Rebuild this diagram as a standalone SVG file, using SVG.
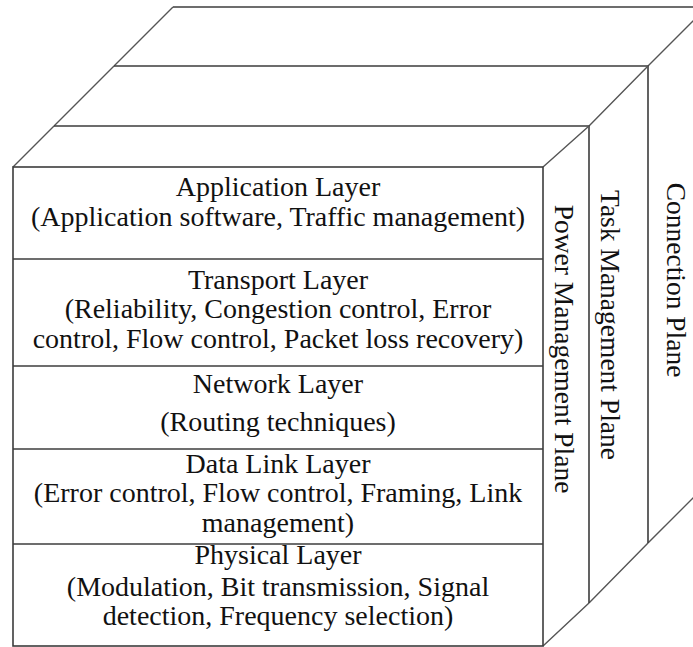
<svg xmlns="http://www.w3.org/2000/svg" width="693" height="647" viewBox="0 0 693 647">
<style>
.ln{fill:none;stroke:#3c3c3c;stroke-width:1.6;stroke-linejoin:miter}
.dg{fill:none;stroke:#555;stroke-width:1.4}
.t{font-family:"Liberation Serif","Times New Roman",serif;font-size:28px;fill:#111;text-anchor:middle}
.v{font-family:"Liberation Serif","Times New Roman",serif;font-size:27.5px;fill:#111;text-anchor:middle}
</style>
<rect width="693" height="647" fill="#fff"/>
<g id="connection-plane">
<path class="ln" d="M173,7 H720"/>
<path class="dg" d="M114,66 L173,7 M648,66 L707,7 M648,543 L710,481"/>
<text class="v" transform="translate(667,280) rotate(90)">Connection Plane</text>
</g>
<g id="task-management-plane">
<path class="ln" d="M114,66 H648 V543"/>
<path class="dg" d="M54,126 L114,66 M589,126 L648,66 M589,603 L648,543"/>
<text class="v" transform="translate(601,325) rotate(90)">Task Management Plane</text>
</g>
<g id="power-management-plane">
<path class="ln" d="M54,126 H589 V603"/>
<path class="dg" d="M13,167 L54,126 M543,167 L589,126 M543,646 L589,603"/>
<text class="v" transform="translate(555,349) rotate(90)">Power Management Plane</text>
</g>
<g id="front-face">
<rect class="ln" x="13" y="167" width="530" height="479"/>
</g>
<g id="application-layer">
<text class="t" x="278" y="196">Application Layer</text>
<text class="t" x="278" y="226">(Application software, Traffic management)</text>
</g>
<g id="transport-layer">
<path class="ln" d="M13,259 H543"/>
<text class="t" x="278" y="289">Transport Layer</text>
<text class="t" x="278" y="318">(Reliability, Congestion control, Error</text>
<text class="t" x="278" y="348">control, Flow control, Packet loss recovery)</text>
</g>
<g id="network-layer">
<path class="ln" d="M13,366 H543"/>
<text class="t" x="278" y="393">Network Layer</text>
<text class="t" x="278" y="431">(Routing techniques)</text>
</g>
<g id="data-link-layer">
<path class="ln" d="M13,449 H543"/>
<text class="t" x="278" y="473">Data Link Layer</text>
<text class="t" x="278" y="502">(Error control, Flow control, Framing, Link</text>
<text class="t" x="278" y="532">management)</text>
</g>
<g id="physical-layer">
<path class="ln" d="M13,544 H543"/>
<text class="t" x="278" y="564">Physical Layer</text>
<text class="t" x="278" y="596">(Modulation, Bit transmission, Signal</text>
<text class="t" x="278" y="625">detection, Frequency selection)</text>
</g>
</svg>
